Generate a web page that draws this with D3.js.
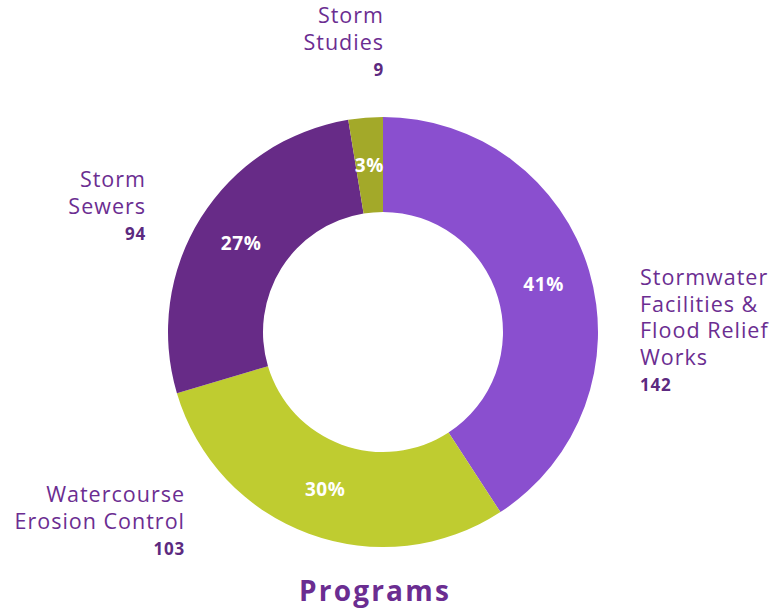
<!DOCTYPE html>
<html>
<head>
<meta charset="utf-8">
<script src="https://cdn.jsdelivr.net/npm/d3@7"></script>
<style>
  body { margin: 0; background: #fff; }
  text { font-family: "Open Sans", sans-serif; }
</style>
</head>
<body>
<svg id="chart" width="782" height="610"></svg>
<script>
// data
var categories = ["Stormwater Facilities & Flood Relief Works", "Watercourse Erosion Control", "Storm Sewers", "Storm Studies"];
var labelLines = [["Stormwater", "Facilities &", "Flood Relief", "Works"], ["Watercourse", "Erosion Control"], ["Storm", "Sewers"], ["Storm", "Studies"]];
var values = [142, 103, 94, 9];
var colors = ["#8a4fcf", "#bfcc30", "#672b87", "#a3a929"];

var svg = d3.select("#chart");
var cx = 383, cy = 332, outerR = 215, innerR = 120;

var pie = d3.pie().sort(null).value(function(d) { return d; });
var arc = d3.arc().innerRadius(innerR).outerRadius(outerR);
var total = d3.sum(values);
var arcs = pie(values);

var g = svg.append("g").attr("transform", "translate(" + cx + "," + cy + ")");

g.selectAll("path")
  .data(arcs)
  .join("path")
  .attr("d", arc)
  .style("fill", function(d, i) { return colors[i]; });

g.selectAll("text.pct")
  .data(arcs)
  .join("text")
  .attr("class", "pct")
  .attr("transform", function(d) { return "translate(" + arc.centroid(d) + ")"; })
  .attr("text-anchor", "middle")
  .attr("dy", "0.36em")
  .style("fill", "#fff")
  .style("font-weight", "bold")
  .style("font-size", "19px")
  .style("letter-spacing", "0.6px")
  .text(function(d) { return Math.round(d.value / total * 100) + "%"; });

// outside labels: anchor point + alignment for each slice
var labelPos = [
  { x: 640, y: 285, anchor: "start" },
  { x: 185, y: 502, anchor: "end" },
  { x: 146, y: 187, anchor: "end" },
  { x: 384, y: 23, anchor: "end" }
];
var lineH = 26.5;

labelPos.forEach(function(p, i) {
  var t = svg.append("g");
  labelLines[i].forEach(function(line, j) {
    t.append("text")
      .attr("x", p.x)
      .attr("y", p.y + j * lineH)
      .attr("text-anchor", p.anchor)
      .style("fill", "#6b2d91")
      .style("font-size", "21.5px")
      .style("letter-spacing", "1px")
      .text(line);
  });
  t.append("text")
    .attr("x", p.x)
    .attr("y", p.y + labelLines[i].length * lineH)
    .attr("text-anchor", p.anchor)
    .style("fill", "#5c2a80")
    .style("font-weight", "bold")
    .style("font-size", "17px")
    .style("letter-spacing", "0.8px")
    .text(values[i]);
});

svg.append("text")
  .attr("x", 375)
  .attr("y", 601)
  .attr("text-anchor", "middle")
  .style("fill", "#6b2d91")
  .style("font-weight", "bold")
  .style("font-size", "28px")
  .style("letter-spacing", "2.2px")
  .text("Programs");
</script>
</body>
</html>
